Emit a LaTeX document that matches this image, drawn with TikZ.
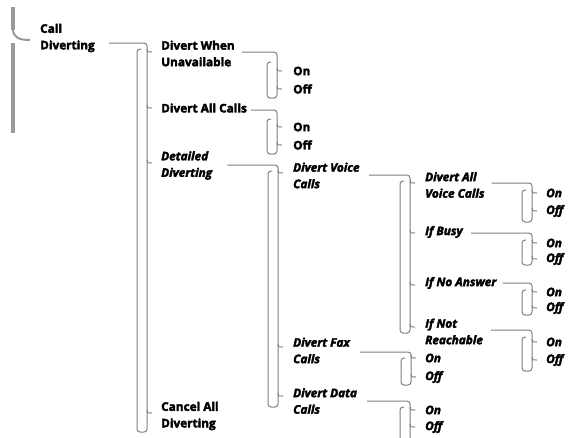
\documentclass[tikz,border=0pt]{standalone}
\usepackage{fontspec}
\setmainfont{Open Sans}[BoldFeatures={FakeBold=3},BoldItalicFeatures={FakeBold=3}]
\usetikzlibrary{calc}
\tikzset{
  ln/.style={draw=black!50, line width=1pt},
  lbl/.style={anchor=west, inner sep=0pt, align=left, font=\fontsize{11.8}{16.5}\selectfont\bfseries},
  ilbl/.style={lbl, font=\fontsize{11.8}{16.5}\selectfont\bfseries\itshape},
  bar/.style={draw=black!40, line width=4pt},
}
% #1 parent, #2 gap, #3 yh, #4 xl, #5 xr, #6 yt, #7 yb
\newcommand\brkt[7]{%
  \draw[ln, rounded corners=3pt] ($(#1.east |- 0,#3)+(#2,0)$) -- (#5,#3) -- (#5,#7) -- (#4,#7) -- (#4,#6) -- (#4+4,#6);}
% #1 xr, #2 child, #3 y
\newcommand\tck[3]{%
  \draw[ln] (#1,#3-3) .. controls (#1,#3) .. ($(#1,#3)!5pt!(#2.west |- 0,#3)$);}
\begin{document}
\begin{tikzpicture}[x=1pt,y=-1pt]
\path[use as bounding box] (0,0) rectangle (577,437);
% left bar
\draw[bar] (13,7) -- (13,30);
\draw[draw=black!40, line width=2pt] (13,29) .. controls (13,38) and (20,40) .. (30,40);
\draw[bar] (13,43) -- (13,133);
% level 0
\node[lbl] (call) at (40,38) {Call\\Diverting};
% level 1
\node[lbl] (dwu) at (161,53.5) {Divert When\\Unavailable};
\node[lbl] (dac) at (161,108) {Divert All Calls};
\node[ilbl] (dd) at (161,165.5) {Detailed\\Diverting};
\node[lbl] (cad) at (161,416) {Cancel All\\Diverting};
\node[lbl] (dwuon) at (293,71) {On};
\node[lbl] (dwuoff) at (293,89) {Off};
\node[lbl] (dacon) at (293,127) {On};
\node[lbl] (dacoff) at (293,145) {Off};
% level 2
\node[ilbl] (dvc) at (293,175.5) {Divert Voice\\Calls};
\node[ilbl] (dfc) at (293,350.5) {Divert Fax\\Calls};
\node[ilbl] (ddc) at (293,401) {Divert Data\\Calls};
\node[ilbl] (dfcon) at (425,358) {On};
\node[ilbl] (dfcoff) at (425,377) {Off};
\node[ilbl] (ddcon) at (425,410) {On};
\node[ilbl] (ddcoff) at (425,427) {Off};
% level 3
\node[ilbl] (dav) at (425,185) {Divert All\\Voice Calls};
\node[ilbl] (ifb) at (425,232) {If Busy};
\node[ilbl] (ifna) at (425,283) {If No Answer};
\node[ilbl] (inr) at (425,331.5) {If Not\\Reachable};
\node[ilbl] (davon) at (546,193) {On};
\node[ilbl] (davoff) at (546,211) {Off};
\node[ilbl] (ifbon) at (546,243) {On};
\node[ilbl] (ifboff) at (546,259) {Off};
\node[ilbl] (ifnaon) at (546,292) {On};
\node[ilbl] (ifnaoff) at (546,308) {Off};
\node[ilbl] (inron) at (546,342) {On};
\node[ilbl] (inroff) at (546,360) {Off};
% brackets
\brkt{call}{14}{43}{137}{147}{49}{432}
\brkt{dwu}{7}{52}{267}{277}{62}{98}
\brkt{dac}{4}{110}{267}{277}{119}{154}
\brkt{dd}{15}{165}{268}{278}{171}{407}
\brkt{dvc}{9}{175}{400}{410}{181}{333}
\brkt{dfc}{10}{352}{401}{411}{358}{385}
\brkt{ddc}{10}{401}{400}{410}{407}{448}
\brkt{dav}{7}{183}{522}{532}{190}{222}
\brkt{ifb}{8}{233}{522}{532}{240}{265}
\brkt{ifna}{6}{283}{522}{532}{290}{315}
\brkt{inr}{8}{330}{522}{532}{337}{371}
% ticks
\tck{147}{dwu}{52}\tck{147}{dac}{108}\tck{147}{dd}{163}\tck{147}{cad}{413}
\tck{277}{dwuon}{71}\tck{277}{dwuoff}{89}\tck{277}{dacon}{127}\tck{277}{dacoff}{145}
\tck{278}{dvc}{173}\tck{278}{dfc}{347}\tck{278}{ddc}{396}
\tck{410}{dav}{183}\tck{410}{ifb}{233}\tck{410}{ifna}{285}\tck{410}{inr}{327}
\tck{411}{dfcon}{358}\tck{411}{dfcoff}{377}
\tck{410}{ddcon}{410}\tck{410}{ddcoff}{427}
\tck{532}{davon}{193}\tck{532}{davoff}{211}
\tck{532}{ifbon}{243}\tck{532}{ifboff}{259}
\tck{532}{ifnaon}{292}\tck{532}{ifnaoff}{308}
\tck{532}{inron}{342}\tck{532}{inroff}{360}
\end{tikzpicture}
\end{document}
